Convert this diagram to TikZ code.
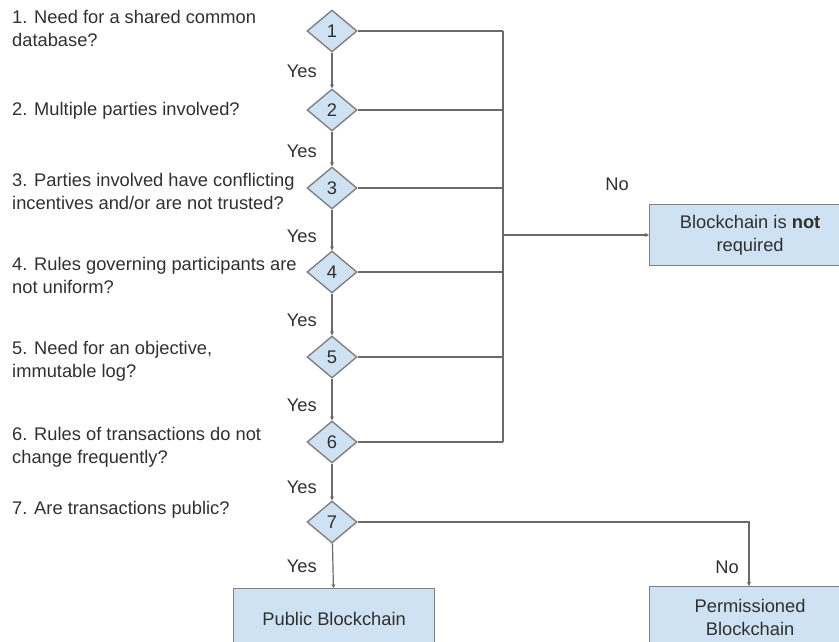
\documentclass[tikz,border=0pt]{standalone}
\usepackage{fontspec}
\setmainfont{Liberation Sans}
\usetikzlibrary{shapes.geometric,arrows.meta}
\definecolor{boxfill}{HTML}{CFE2F3}
\definecolor{boxline}{HTML}{808080}
\definecolor{wire}{HTML}{6A6A6A}
\definecolor{ink}{HTML}{303030}
\begin{document}
\begin{tikzpicture}[x=1pt,y=-1pt,
  every node/.style={text=ink,font=\fontsize{18.3}{23}\selectfont},
  qtext/.style={anchor=west,align=left,inner sep=0pt},
  yeslbl/.style={anchor=east,inner sep=0pt},
  decision/.style={diamond,draw=boxline,fill=boxfill,line width=1.4pt,
    minimum width=50pt,minimum height=42pt,inner sep=0pt},
  outcome/.style={rectangle,draw=boxline,fill=boxfill,line width=1.2pt,
    minimum width=201pt,minimum height=61pt,inner sep=0pt,align=center,anchor=north west},
  wire/.style={draw=wire,line width=1.2pt},
  arr/.style={wire,-{Stealth[length=4pt,width=4pt]}}]
\useasboundingbox (0,0) rectangle (839,641);
\clip (0,0) rectangle (839,641);

% decisions down the main column
\node[decision] (d1) at (332,31) {1};
\node[decision] (d2) at (332,110) {2};
\node[decision] (d3) at (332,188) {3};
\node[decision] (d4) at (332,272) {4};
\node[decision] (d5) at (332,357) {5};
\node[decision] (d6) at (332,442) {6};
\node[decision] (d7) at (332,522) {7};

% questions
\node[qtext] (q1) at (12,28) {1. Need for a shared common\\database?};
\node[qtext] (q2) at (12,111) {2. Multiple parties involved?};
\node[qtext] (q3) at (12,191) {3. Parties involved have conflicting\\incentives and/or are not trusted?};
\node[qtext] (q4) at (12,275) {4. Rules governing participants are\\not uniform?};
\node[qtext] (q5) at (12,361) {5. Need for an objective,\\immutable log?};
\node[qtext] (q6) at (12,447) {6. Rules of transactions do not\\change frequently?};
\node[qtext] (q7) at (12,510) {7. Are transactions public?};

% outcomes
\node[outcome] (notreq) at (649,204) {Blockchain is \textbf{not}\\required};
\node[outcome] (public) at (233,588) {Public Blockchain};
\node[outcome] (perm) at (649,586) {Permissioned\\Blockchain};

% yes path
\draw[arr] (d1) -- (d2);
\draw[arr] (d2) -- (d3);
\draw[arr] (d3) -- (d4);
\draw[arr] (d4) -- (d5);
\draw[arr] (d5) -- (d6);
\draw[arr] (d6) -- (d7);
\draw[arr] (d7) -- (public);
\node[yeslbl] (y1) at (317,71) {Yes};
\node[yeslbl] (y2) at (317,151) {Yes};
\node[yeslbl] (y3) at (317,236) {Yes};
\node[yeslbl] (y4) at (317,320) {Yes};
\node[yeslbl] (y5) at (317,405) {Yes};
\node[yeslbl] (y6) at (317,487) {Yes};
\node[yeslbl] (y7) at (317,566) {Yes};

% no path for questions 1-6
\coordinate (bustop) at (503,31);
\coordinate (busbot) at (503,442);
\coordinate (busjoin) at (503,235);
\foreach \i in {1,...,6} {\draw[wire] (d\i.east) -- (d\i.east -| bustop);}
\draw[wire] (bustop) -- (busbot);
\draw[arr] (busjoin) -- (notreq.west |- busjoin);
\node[inner sep=0pt] (n1) at (617,184) {No};

% no path for question 7
\coordinate (turn7) at (749,522);
\draw[arr] (d7.east) -- (turn7) -- (turn7 |- perm.north);
\node[inner sep=0pt] (n2) at (727,567) {No};
\end{tikzpicture}
\end{document}
